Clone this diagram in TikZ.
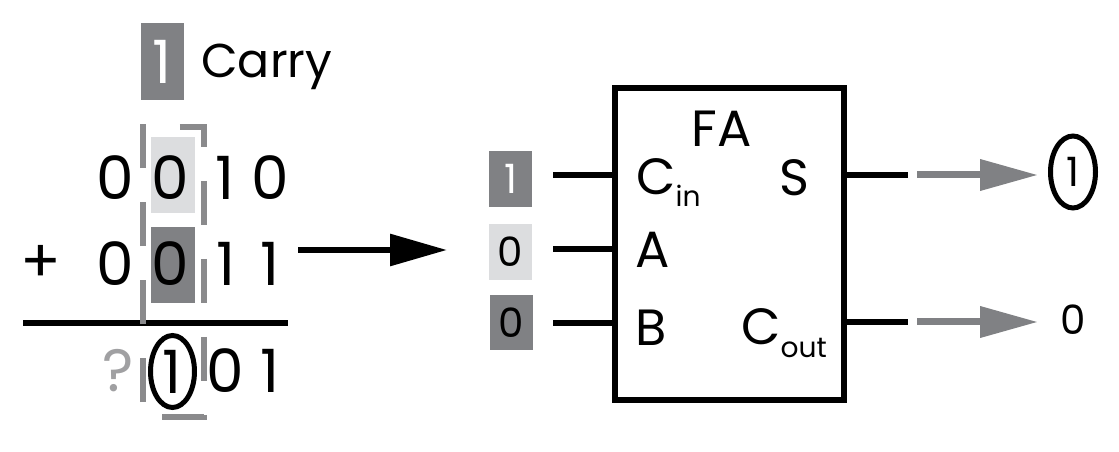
\documentclass[tikz,border=0pt]{standalone}
\usepackage{fontspec}
\setmainfont{Poppins}
\usetikzlibrary{arrows.meta,shapes.geometric}
\definecolor{darkgr}{RGB}{128,129,132}
\definecolor{lightgr}{RGB}{220,221,223}
\definecolor{markgr}{RGB}{138,138,140}
\definecolor{askgr}{RGB}{160,160,162}
\newcommand{\digitfont}{\fontsize{34}{40}\selectfont}
\newcommand{\labelfont}{\fontsize{29}{34}\selectfont}
\newcommand{\carryfont}{\fontsize{27}{32}\selectfont}
\newcommand{\subfont}{\fontsize{16}{19}\selectfont}
\newcommand{\smallfont}{\fontsize{23}{28}\selectfont}

\begin{document}
\begin{tikzpicture}[x=0.02cm,y=-0.02cm,
    dig/.style={font=\digitfont,inner sep=0pt},
    lbl/.style={font=\labelfont,inner sep=0pt},
    valbox/.style={font=\smallfont,inner sep=0pt,minimum width=0.86cm,minimum height=1.12cm},
    wire/.style={line width=0.13cm},
    ring/.style={ellipse,draw,line width=0.1cm},
    outarrow/.style={draw=darkgr,line width=0.14cm,-{Triangle[length=1.16cm,width=0.6cm]}}]
    \useasboundingbox (0,0) rectangle (1119,452);

    \node[dig,fill=darkgr,text=white,minimum width=0.86cm,minimum height=1.54cm] (carrybox) at (162.5,61.5) {1};
    \node[font=\carryfont,inner sep=0pt,anchor=base west] (carry) at (201,78) {Carry};

    \node[fill=lightgr,minimum width=0.88cm,minimum height=1.52cm,inner sep=0pt] (abox) at (173,175) {};
    \node[fill=darkgr,minimum width=0.88cm,minimum height=1.52cm,inner sep=0pt] (bbox) at (173,265) {};

    \node[dig] (a3) at (115,178) {0};
    \node[dig] (a2) at (170,178) {0};
    \node[dig] (a1) at (225,178) {1};
    \node[dig] (a0) at (270,178) {0};

    \node[dig] (plus) at (41,264) {+};
    \node[dig] (b3) at (115,264) {0};
    \node[dig] (b2) at (170,264) {0};
    \node[dig] (b1) at (226,264) {1};
    \node[dig] (b0) at (270,264) {1};

    \coordinate (sumleft) at (23,323);
    \coordinate (sumright) at (288,323);
    \draw[line width=0.12cm] (sumleft) -- (sumright);

    \draw[markgr,line width=0.12cm,dash pattern=on 0.88cm off 0.68cm,dash phase=1.26cm]
        (143,417) -- (143,127) -- (204,127) -- (204,417) -- cycle;

    \node[dig,text=askgr] (s3) at (118,371) {?};
    \node[dig,ring,minimum width=0.88cm,minimum height=1.44cm] (s2) at (172.5,371.5) {1};
    \node[dig] (s1) at (225,371) {0};
    \node[dig] (s0) at (270,371) {1};

    \coordinate (addout) at (298,250);
    \coordinate (fain) at (447,250);
    \draw[line width=0.12cm,-{Triangle[length=1.14cm,width=0.62cm]}] (addout) -- (fain);

    \node[draw,line width=0.12cm,minimum width=4.58cm,minimum height=6.24cm] (fa) at (729.5,244) {};
    \node[lbl] (faname) at (722,128.5) {FA};
    \node[lbl,anchor=base west] (cin) at (636,195) {C\raisebox{-0.24cm}{\subfont in}};
    \node[lbl] (s) at (794,177.5) {S};
    \node[lbl] (a) at (653,250) {A};
    \node[lbl] (b) at (651.5,327.5) {B};
    \node[lbl,anchor=base west] (cout) at (741,345) {C\raisebox{-0.26cm}{\subfont out}};

    \node[valbox,fill=darkgr,text=white] (cinval) at (510.5,179) {1};
    \node[valbox,fill=lightgr] (aval) at (510.5,252) {0};
    \node[valbox,fill=darkgr] (bval) at (511.5,322.5) {0};

    \coordinate (cinwire) at (553,175);
    \coordinate (awire) at (553,249);
    \coordinate (bwire) at (553,323);
    \draw[wire] (cinwire) -- (cinwire -| fa.west);
    \draw[wire] (awire) -- (awire -| fa.west);
    \draw[wire] (bwire) -- (bwire -| fa.west);

    \coordinate (swire) at (908,175);
    \coordinate (coutwire) at (908,322);
    \draw[wire] (fa.east |- swire) -- (swire);
    \draw[wire] (fa.east |- coutwire) -- (coutwire);

    \node[font=\smallfont,inner sep=0pt,ring,minimum width=0.9cm,minimum height=1.44cm] (sres) at (1073,172) {1};
    \node[font=\smallfont,inner sep=0pt] (coutres) at (1073,320) {0};

    \coordinate (sarrow) at (917,175);
    \coordinate (sarrowend) at (1038,175);
    \coordinate (carrow) at (917,322);
    \coordinate (carrowend) at (1038,322);
    \draw[outarrow] (sarrow) -- (sarrowend);
    \draw[outarrow] (carrow) -- (carrowend);
\end{tikzpicture}
\end{document}
